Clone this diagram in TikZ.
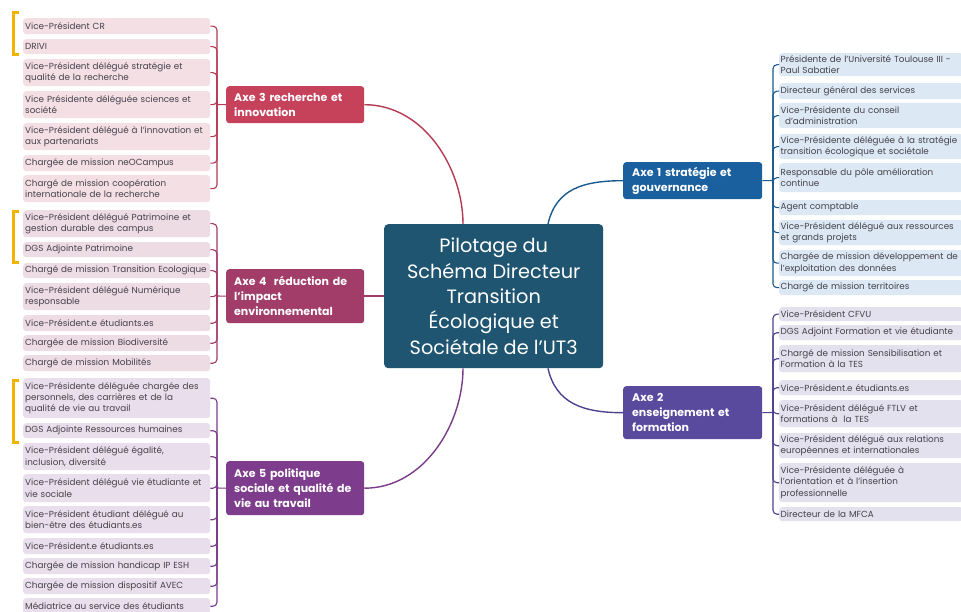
\documentclass[tikz,border=0pt]{standalone}
\usepackage{fontspec}
\setmainfont{Poppins}
\usetikzlibrary{calc}
\definecolor{ctrcol}{HTML}{1F5571}
\definecolor{ax1}{HTML}{1A5F9E}
\definecolor{ax2}{HTML}{5A4A9E}
\definecolor{ax3}{HTML}{C6425B}
\definecolor{ax4}{HTML}{A23C69}
\definecolor{ax5}{HTML}{7D3C8C}
\definecolor{c1}{HTML}{1B5A8E}
\definecolor{c2}{HTML}{4E438F}
\definecolor{c3}{HTML}{B33A52}
\definecolor{c4}{HTML}{A03A67}
\definecolor{c5}{HTML}{7A3B89}
\definecolor{f1}{HTML}{DCE8F3}
\definecolor{f2}{HTML}{E4E1EF}
\definecolor{f3}{HTML}{F3DFE4}
\definecolor{f4}{HTML}{EEDCE5}
\definecolor{f5}{HTML}{E9DEEC}
\definecolor{leaftxt}{HTML}{45424B}
\definecolor{ybr}{HTML}{F2B400}
\newcommand\leaffont{\fontsize{8.8}{11.3}\selectfont}
\newcommand\axefont{\fontsize{11}{15}\selectfont\bfseries}
\begin{document}
\begin{tikzpicture}[x=1pt,y=-1pt,
  leaf/.style={anchor=north west, rounded corners=3pt, inner ysep=0pt, align=left, font=\leaffont, text=leaftxt},
  leafL/.style={leaf, inner xsep=2pt, text width=183pt},
  leafR/.style={leaf, inner xsep=1.5pt, text width=181pt},
  axe/.style={anchor=north west, rounded corners=3pt, inner xsep=8pt, inner ysep=0pt, text width=122pt, align=left, text=white, font=\axefont},
  conn/.style={line width=1.4pt},
  spine/.style={line width=1.1pt, rounded corners=4pt},
  bracket/.style={draw=ybr, line width=3pt}
]
\useasboundingbox (0,0) rectangle (961,612);
\fill[white] (0,0) rectangle (961,612);

% centre
\node[anchor=north west, fill=ctrcol, rounded corners=4pt, minimum width=219pt, minimum height=144pt, inner sep=0pt, text=white, align=center, font=\fontsize{19.3}{25.3}\selectfont] (ctr) at (384,224)
 {Pilotage du\\Schéma Directeur\\Transition\\Écologique et\\Sociétale de l'UT3};

% axes
\node[axe, fill=ax3, minimum height=37pt] (a3) at (226,86) {Axe 3 recherche et\\innovation};
\node[axe, fill=ax4, minimum height=54pt] (a4) at (226,269) {Axe 4\ \ réduction de\\l'impact\\environnemental};
\node[axe, fill=ax5, minimum height=54pt] (a5) at (226,461) {Axe 5 politique\\sociale et qualité de\\vie au travail};
\node[axe, fill=ax1, minimum height=37pt, inner xsep=9pt, text width=121pt] (a1) at (623,162) {Axe 1 stratégie et\\gouvernance};
\node[axe, fill=ax2, minimum height=53pt, inner xsep=9pt, text width=121pt] (a2) at (623,386) {Axe 2\\enseignement et\\formation};

% centre connectors
\coordinate (t3) at ($(ctr.north west)+(79,0)$);
\coordinate (b5) at ($(ctr.south west)+(79,0)$);
\coordinate (t1) at ($(ctr.north west)+(164,0)$);
\coordinate (b2) at ($(ctr.south west)+(164,0)$);
\draw[conn, c3] (a3.east) .. controls +(60,0) and +(0,-55) .. (t3);
\draw[conn, c4] (a4.east) -- (ctr.west |- a4.east);
\draw[conn, c5] (a5.east) .. controls +(60,0) and +(0,55) .. (b5);
\draw[conn, c1] (t1) .. controls +(8,-35) and +(-40,0) .. (a1.west);
\draw[conn, c2] (b2) .. controls +(8,35) and +(-40,0) .. (a2.west);

% Axe 3 leaves
\node[leafL, fill=f3, minimum height=16pt] (l31) at (23,18) {Vice-Président CR};
\node[leafL, fill=f3, minimum height=15pt] (l32) at (23,39) {DRIVI};
\node[leafL, fill=f3, minimum height=27pt] (l33) at (23,59) {Vice-Président délégué stratégie et\\qualité de la recherche};
\node[leafL, fill=f3, minimum height=27pt] (l34) at (23,91) {Vice Présidente déléguée sciences et\\société};
\node[leafL, fill=f3, minimum height=27pt] (l35) at (23,123) {Vice-Président délégué à l'innovation et\\aux partenariats};
\node[leafL, fill=f3, minimum height=16pt] (l36) at (23,155) {Chargée de mission neOCampus};
\node[leafL, fill=f3, minimum height=27pt] (l37) at (23,175) {Chargé de mission coopération\\internationale de la recherche};
\coordinate (s3) at (217,104.5);
\draw[conn, c3, line width=1.1pt] (a3.west) -- (s3);
\foreach \n in {l31,l32,l33,l34,l35,l36,l37} \draw[spine, c3] (s3) |- (\n.east);

% Axe 4 leaves
\node[leafL, fill=f4, minimum height=27pt] (l41) at (23,210) {Vice-Président délégué Patrimoine et\\gestion durable des campus};
\node[leafL, fill=f4, minimum height=15pt] (l42) at (23,242) {DGS Adjointe Patrimoine};
\node[leafL, fill=f4, minimum height=15pt] (l43) at (23,263) {Chargé de mission Transition Ecologique};
\node[leafL, fill=f4, minimum height=27pt] (l44) at (23,283) {Vice-Président délégué Numérique\\responsable};
\node[leafL, fill=f4, minimum height=16pt] (l45) at (23,315) {Vice-Président.e étudiants.es};
\node[leafL, fill=f4, minimum height=16pt] (l46) at (23,335) {Chargée de mission Biodiversité};
\node[leafL, fill=f4, minimum height=16pt] (l47) at (23,355) {Chargé de mission Mobilités};
\coordinate (s4) at (217,296);
\draw[conn, c4, line width=1.1pt] (a4.west) -- (s4);
\foreach \n in {l41,l42,l43,l44,l45,l46,l47} \draw[spine, c4] (s4) |- (\n.east);

% Axe 5 leaves
\node[leafL, fill=f5, minimum height=40pt] (l51) at (23,378) {Vice-Présidente déléguée chargée des\\personnels, des carrières et de la\\qualité de vie au travail};
\node[leafL, fill=f5, minimum height=15pt] (l52) at (23,423) {DGS Adjointe Ressources humaines};
\node[leafL, fill=f5, minimum height=27pt] (l53) at (23,443) {Vice-Président délégué égalité,\\inclusion, diversité};
\node[leafL, fill=f5, minimum height=28pt] (l54) at (23,474) {Vice-Président délégué vie étudiante et\\vie sociale};
\node[leafL, fill=f5, minimum height=27pt] (l55) at (23,506) {Vice-Président étudiant délégué au\\bien-être des étudiants.es};
\node[leafL, fill=f5, minimum height=16pt] (l56) at (23,538) {Vice-Président.e étudiants.es};
\node[leafL, fill=f5, minimum height=16pt] (l57) at (23,558) {Chargée de mission handicap IP ESH};
\node[leafL, fill=f5, minimum height=16pt] (l58) at (23,578) {Chargée de mission dispositif AVEC};
\node[leafL, fill=f5, minimum height=16pt] (l59) at (23,598) {Médiatrice au service des étudiants};
\coordinate (s5) at (217,488);
\draw[conn, c5, line width=1.1pt] (a5.west) -- (s5);
\foreach \n in {l51,l52,l53,l54,l55,l56,l57,l58,l59} \draw[spine, c5] (s5) |- (\n.east);

% Axe 1 leaves
\node[leafR, fill=f1, minimum height=23pt] (r11) at (779,53) {Présidente de l'Université Toulouse III -\\Paul Sabatier};
\node[leafR, fill=f1, minimum height=16pt] (r12) at (779,83) {Directeur général des services};
\node[leafR, fill=f1, minimum height=25pt] (r13) at (779,103) {Vice-Présidente du conseil\\\hspace*{0.5em}d'administration};
\node[leafR, fill=f1, minimum height=25pt] (r14) at (779,134) {Vice-Présidente déléguée à la stratégie\\transition écologique et sociétale};
\node[leafR, fill=f1, minimum height=29pt] (r15) at (779,163) {Responsable du pôle amélioration\\continue};
\node[leafR, fill=f1, minimum height=15pt] (r16) at (779,200) {Agent comptable};
\node[leafR, fill=f1, minimum height=25pt] (r17) at (779,220) {Vice-Président délégué aux ressources\\et grands projets};
\node[leafR, fill=f1, minimum height=26pt] (r18) at (779,250) {Chargée de mission développement de\\l'exploitation des données};
\node[leafR, fill=f1, minimum height=15pt] (r19) at (779,280) {Chargé de mission territoires};
\coordinate (s1) at (773,180.5);
\draw[conn, c1, line width=1.1pt] (a1.east) -- (s1);
\foreach \n in {r11,r12,r13,r14,r15,r16,r17,r18,r19} \draw[spine, c1] (s1) |- (\n.west);

% Axe 2 leaves
\node[leafR, fill=f2, minimum height=14pt] (r21) at (779,307) {Vice-Président CFVU};
\node[leafR, fill=f2, minimum height=15pt] (r22) at (779,325) {DGS Adjoint Formation et vie étudiante};
\node[leafR, fill=f2, minimum height=27pt] (r23) at (779,345) {Chargé de mission Sensibilisation et\\Formation à la TES};
\node[leafR, fill=f2, minimum height=15pt] (r24) at (779,380) {Vice-Président.e étudiants.es};
\node[leafR, fill=f2, minimum height=27pt] (r25) at (779,400) {Vice-Président délégué FTLV et\\formations à\ \ la TES};
\node[leafR, fill=f2, minimum height=25pt] (r26) at (779,433) {Vice-Président délégué aux relations\\européennes et internationales};
\node[leafR, fill=f2, minimum height=39pt] (r27) at (779,463) {Vice-Présidente déléguée à\\l'orientation et à l'insertion\\professionnelle};
\node[leafR, fill=f2, minimum height=14pt] (r28) at (779,507) {Directeur de la MFCA};
\coordinate (s2) at (773,412.5);
\draw[conn, c2, line width=1.1pt] (a2.east) -- (s2);
\foreach \n in {r21,r22,r23,r24,r25,r26,r27,r28} \draw[spine, c2] (s2) |- (\n.west);

% yellow brackets
\draw[bracket] (19,13) -- (13,13) -- (13,55) -- (19,55);
\draw[bracket] (19,212) -- (13,212) -- (13,263) -- (19,263);
\draw[bracket] (19,380) -- (13,380) -- (13,442) -- (19,442);
\end{tikzpicture}
\end{document}
